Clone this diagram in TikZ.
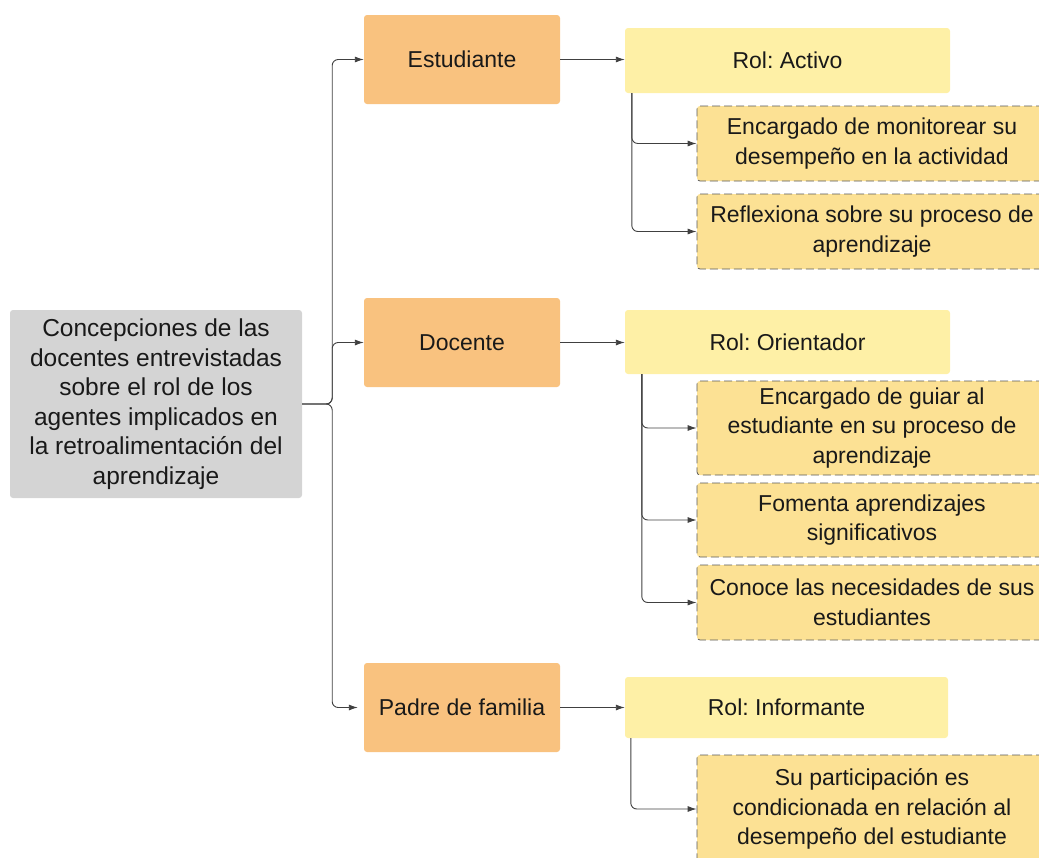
\documentclass[tikz,border=0pt]{standalone}
\usepackage{fontspec}
\setmainfont{Liberation Sans}
\usetikzlibrary{arrows.meta}
\frenchspacing
\definecolor{grayfill}{HTML}{D4D4D4}
\definecolor{orangefill}{HTML}{F9C27F}
\definecolor{rolfill}{HTML}{FEF0A6}
\definecolor{detfill}{HTML}{FCE194}
\definecolor{linec}{HTML}{404040}
\tikzset{
  box/.style={inner sep=2pt, align=center, rounded corners=3pt, font=\fontsize{23}{29.5}\selectfont, text=black!90},
  rootbox/.style={box, fill=grayfill, minimum width=292pt, minimum height=188pt, font=\fontsize{24.5}{29.5}\selectfont},
  agentbox/.style={box, fill=orangefill, minimum width=196pt, minimum height=89pt},
  rolbox/.style={box, fill=rolfill, minimum width=325pt, minimum height=64pt},
  detbox/.style={box, fill=detfill, draw=black!65, dash pattern=on 8pt off 4pt, line width=0.8pt, minimum width=350pt},
  conn/.style={draw=linec, line width=0.9pt, rounded corners=6pt, -{Latex[length=9pt,width=6pt]}}
}
\begin{document}
\begin{tikzpicture}[x=1pt,y=-1pt]
\useasboundingbox (0,0) rectangle (1039,857);
% root
\node[rootbox] (root) at (156,404) {Concepciones de las\\ docentes entrevistadas\\ sobre el rol de los\\ agentes implicados en\\ la retroalimentación del\\ aprendizaje};
% agents
\node[agentbox] (est) at (462,59.5) {Estudiante};
\node[agentbox] (doc) at (462,342.5) {Docente};
\node[agentbox] (pad) at (462,707.5) {Padre de familia};
% roles
\node[rolbox, minimum height=65pt] (rolA) at (787.5,60.5) {Rol: Activo};
\node[rolbox] (rolO) at (787.5,342) {Rol: Orientador};
\node[rolbox, minimum width=323pt, minimum height=61pt] (rolI) at (786.5,707.5) {Rol: Informante};
% details
\node[detbox, minimum height=75pt] (d1) at (872,143.5) {Encargado de monitorear su\\ desempeño en la actividad};
\node[detbox, minimum height=75pt] (d2) at (872,231.5) {Reflexiona sobre su proceso de\\ aprendizaje};
\node[detbox, minimum height=94pt] (d3) at (872,428) {Encargado de guiar al\\ estudiante en su proceso de\\ aprendizaje};
\node[detbox, minimum height=74pt] (d4) at (872,520) {Fomenta aprendizajes\\ significativos};
\node[detbox, minimum height=75pt] (d5) at (872,602.5) {Conoce las necesidades de sus\\ estudiantes};
\node[detbox, minimum height=108pt] (d6) at (872,809) {Su participación es\\ condicionada en relación al\\ desempeño del estudiante};
% connectors root -> agents
\draw[conn] (root.east) -- ++(30,0) |- (est.west);
\draw[conn] (root.east) -- ++(30,0) |- (doc.west);
\draw[conn] (root.east) -- ++(30,0) |- ([xshift=-6pt]pad.west);
% agents -> roles
\draw[conn] (est.east) -- (rolA.west |- est.east);
\draw[conn] (doc.east) -- (rolO.west |- doc.east);
\draw[conn] (pad.east) -- (rolI.west |- pad.east);
% roles -> details
\draw[conn] ([xshift=7pt]rolA.south west) |- (d1.west);
\draw[conn] ([xshift=7pt]rolA.south west) |- (d2.west);
\draw[conn] ([xshift=17pt]rolO.south west) |- (d3.west);
\draw[conn] ([xshift=17pt]rolO.south west) |- (d4.west);
\draw[conn] ([xshift=17pt]rolO.south west) |- (d5.west);
\draw[conn] ([xshift=6pt]rolI.south west) |- (d6.west);
\end{tikzpicture}
\end{document}
